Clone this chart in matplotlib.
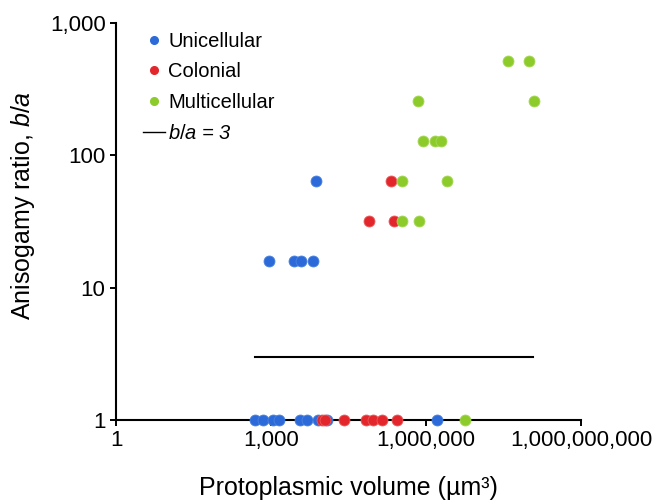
import matplotlib
matplotlib.use("Agg")
import matplotlib.pyplot as plt
from matplotlib.lines import Line2D
from matplotlib.ticker import FixedLocator, FixedFormatter, NullLocator

plt.rcParams['font.family'] = ['Liberation Sans', 'DejaVu Sans']
plt.rcParams['mathtext.fontset'] = 'custom'
plt.rcParams['mathtext.rm'] = 'Liberation Sans'
plt.rcParams['mathtext.it'] = 'Liberation Sans:italic'

# ---- data (log10 of protoplasmic volume, anisogamy ratio) ----
uni_logx = [2.69, 2.85, 3.03, 3.16, 3.57, 3.69, 3.91, 4.08, 6.21,
            2.96, 3.45, 3.58, 3.82, 3.88]
uni_y = [1, 1, 1, 1, 1, 1, 1, 1, 1,
         16, 16, 16, 16, 64]

col_logx = [3.98, 4.05, 4.42, 4.84, 4.97, 5.14, 5.43, 4.89, 5.38, 5.33]
col_y = [1, 1, 1, 1, 1, 1, 1, 32, 32, 64]

mul_logx = [6.76, 5.53, 5.86, 5.53, 6.40, 5.94, 6.17, 6.29, 5.84, 8.09, 7.59, 7.99]
mul_y = [1, 32, 32, 64, 64, 128, 128, 128, 256, 256, 512, 512]

line_x = [500, 1.2e8]
line_y = [3, 3]

xticks = [1, 1e3, 1e6, 1e9]
xticklabels = ['1', '1,000', '1,000,000', '1,000,000,000']
yticks = [1, 10, 100, 1000]
yticklabels = ['1', '10', '100', '1,000']

colors = {'Unicellular': '#2B6AD8', 'Colonial': '#E2262B', 'Multicellular': '#8CCB2A'}
edges = {'Unicellular': '#4A82E0', 'Colonial': '#EA5A5A', 'Multicellular': '#A6D85A'}

fig = plt.figure(figsize=(6.7, 5.04), dpi=100)
ax = fig.add_axes([116/670, 1 - 420/504, (581-116)/670, (420-23)/504])

ax.plot(line_x, line_y, color='black', lw=1.5, zorder=2)

for name, lx, ys in [('Unicellular', uni_logx, uni_y),
                     ('Colonial', col_logx, col_y),
                     ('Multicellular', mul_logx, mul_y)]:
    xs = [10 ** v for v in lx]
    ax.scatter(xs, ys, s=62, color=colors[name], edgecolors=edges[name],
               linewidths=0.6, zorder=4, clip_on=False)

ax.set_xscale('log')
ax.set_yscale('log')
ax.set_xlim(1, 1e9)
ax.set_ylim(1, 1000)
ax.xaxis.set_major_locator(FixedLocator(xticks))
ax.xaxis.set_major_formatter(FixedFormatter(xticklabels))
ax.xaxis.set_minor_locator(NullLocator())
ax.yaxis.set_major_locator(FixedLocator(yticks))
ax.yaxis.set_major_formatter(FixedFormatter(yticklabels))
ax.yaxis.set_minor_locator(NullLocator())

for s in ['top', 'right']:
    ax.spines[s].set_visible(False)
for s in ['left', 'bottom']:
    ax.spines[s].set_linewidth(1.5)
    ax.spines[s].set_color('black')
ax.tick_params(axis='both', which='major', direction='out', length=4.5,
               width=1.4, labelsize=16, pad=3, colors='black')

ax.set_xlabel('Protoplasmic volume (\u00b5m\u00b3)', fontsize=18)
ax.xaxis.set_label_coords(0.5, -0.14)
ax.set_ylabel('Anisogamy ratio, $b/a$', fontsize=18)
ax.yaxis.set_label_coords(-0.17, 0.54)

handles = [
    Line2D([], [], ls='none', marker='o', markersize=5.5, color=colors['Unicellular']),
    Line2D([], [], ls='none', marker='o', markersize=5.5, color=colors['Colonial']),
    Line2D([], [], ls='none', marker='o', markersize=5.5, color=colors['Multicellular']),
    Line2D([], [], color='black', lw=1.0),
]
labels = ['Unicellular', 'Colonial', 'Multicellular', '$b/a$ = 3']
leg = ax.legend(handles, labels, loc='upper left', bbox_to_anchor=(0.058, 0.978),
                frameon=False, fontsize=14.5, handlelength=1.1, handletextpad=0.15,
                labelspacing=0.58, borderpad=0, borderaxespad=0)
leg.get_texts()[3].set_fontstyle('italic')

fig.savefig('out.png', dpi=100)
